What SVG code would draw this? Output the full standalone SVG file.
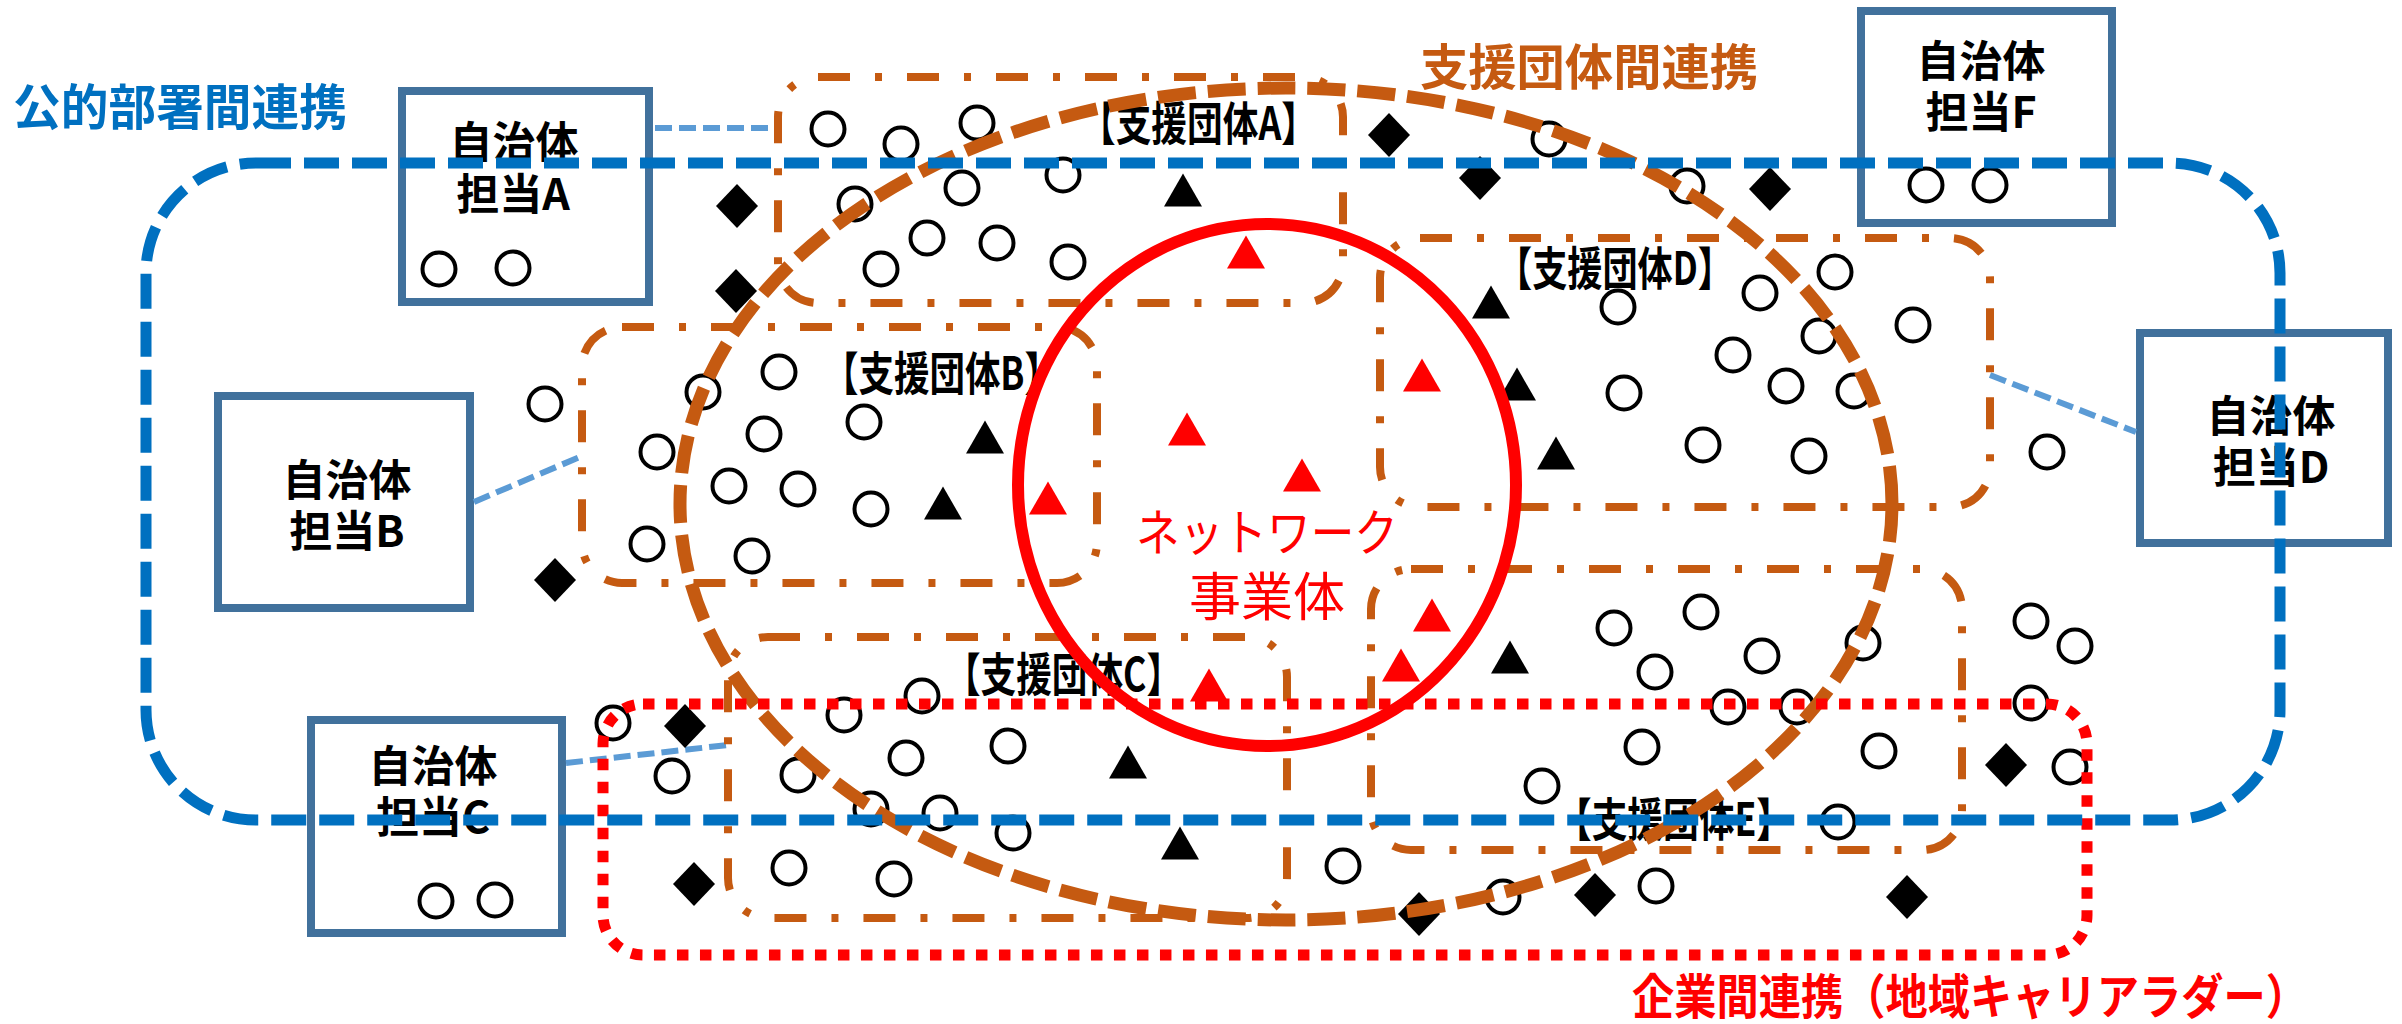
<svg xmlns="http://www.w3.org/2000/svg" xmlns:xlink="http://www.w3.org/1999/xlink" width="2402" height="1024" viewBox="0 0 2402 1024">
<style>
.box{fill:#fff;stroke:#41719C;stroke-width:8}
.bt{font-family:"Noto Sans CJK JP","Liberation Sans",sans-serif;font-weight:700;font-size:43px;fill:#000;text-anchor:middle}
.lbl{font-family:"Noto Sans CJK JP","Liberation Sans",sans-serif;font-weight:700;font-size:46px;fill:#000}
.ttl{font-family:"Noto Sans CJK JP","Liberation Sans",sans-serif;font-weight:700;font-size:49px}
.ci{fill:none;stroke:#000;stroke-width:4}
.tk{fill:#000}
.tr{fill:#FF0000}
.grp{fill:none;stroke:#C55A11;stroke-width:8;stroke-dasharray:32 25 7 25}
.big{fill:none;stroke:#C55A11;stroke-width:13;stroke-dasharray:38 12}
.conn{fill:none;stroke:#5B9BD5;stroke-width:6;stroke-dasharray:17 7}
</style>
<defs>
<path id="tri" d="M0,-16.5 L19,16.5 L-19,16.5 Z"/>
<path id="dia" d="M0,-22 L21,0 L0,22 L-21,0 Z"/>
<circle id="c" r="16.5"/>
</defs>

<g id="box-A"><rect class="box" x="402" y="91" width="247" height="211"/>
<text class="bt" x="514" y="158">自治体</text><text class="bt" x="513" y="210">担当A</text>
<use href="#c" class="ci" x="439" y="269"/><use href="#c" class="ci" x="513" y="268"/></g>
<g id="box-B"><rect class="box" x="218" y="396" width="252" height="212"/>
<text class="bt" x="347" y="496">自治体</text><text class="bt" x="347" y="547">担当B</text></g>
<g id="box-C"><rect class="box" x="311" y="720" width="251" height="213"/>
<text class="bt" x="433" y="782">自治体</text><text class="bt" x="433" y="833">担当C</text>
<use href="#c" class="ci" x="436" y="901"/><use href="#c" class="ci" x="495" y="900"/></g>
<g id="box-D"><rect class="box" x="2140" y="333" width="248" height="210"/>
<text class="bt" x="2271" y="432">自治体</text><text class="bt" x="2271" y="483">担当D</text></g>
<g id="box-F"><rect class="box" x="1861" y="11" width="251" height="212"/>
<text class="bt" x="1981" y="77">自治体</text><text class="bt" x="1981" y="128">担当F</text>
<use href="#c" class="ci" x="1926" y="185"/><use href="#c" class="ci" x="1990" y="185"/></g>

<g id="connectors">
<line class="conn" x1="655" y1="128" x2="778" y2="128"/>
<line class="conn" x1="474" y1="502" x2="582" y2="456"/>
<line class="conn" x1="566" y1="763" x2="728" y2="745"/>
<line class="conn" x1="1990" y1="375" x2="2136" y2="432"/>
</g>

<g id="members">
<g id="circles">
<use href="#c" class="ci" x="828" y="129"/><use href="#c" class="ci" x="901" y="144"/><use href="#c" class="ci" x="977" y="123"/>
<use href="#c" class="ci" x="1063" y="175"/><use href="#c" class="ci" x="962" y="188"/><use href="#c" class="ci" x="855" y="204"/>
<use href="#c" class="ci" x="927" y="238"/><use href="#c" class="ci" x="997" y="243"/><use href="#c" class="ci" x="881" y="269"/>
<use href="#c" class="ci" x="1068" y="262"/><use href="#c" class="ci" x="1549" y="139"/><use href="#c" class="ci" x="1687" y="186"/>
<use href="#c" class="ci" x="545" y="404"/><use href="#c" class="ci" x="703" y="392"/><use href="#c" class="ci" x="779" y="372"/>
<use href="#c" class="ci" x="764" y="434"/><use href="#c" class="ci" x="864" y="422"/><use href="#c" class="ci" x="657" y="452"/>
<use href="#c" class="ci" x="729" y="486"/><use href="#c" class="ci" x="798" y="489"/><use href="#c" class="ci" x="871" y="509"/>
<use href="#c" class="ci" x="647" y="544"/><use href="#c" class="ci" x="752" y="556"/>
<use href="#c" class="ci" x="1835" y="272"/><use href="#c" class="ci" x="1760" y="293"/><use href="#c" class="ci" x="1618" y="307"/>
<use href="#c" class="ci" x="1913" y="325"/><use href="#c" class="ci" x="1819" y="336"/><use href="#c" class="ci" x="1733" y="355"/>
<use href="#c" class="ci" x="1786" y="386"/><use href="#c" class="ci" x="1854" y="391"/><use href="#c" class="ci" x="1624" y="393"/>
<use href="#c" class="ci" x="1703" y="445"/><use href="#c" class="ci" x="1809" y="456"/><use href="#c" class="ci" x="2047" y="452"/>
<use href="#c" class="ci" x="1614" y="628"/><use href="#c" class="ci" x="1701" y="612"/><use href="#c" class="ci" x="1762" y="656"/>
<use href="#c" class="ci" x="1655" y="672"/><use href="#c" class="ci" x="1863" y="643"/><use href="#c" class="ci" x="2031" y="621"/>
<use href="#c" class="ci" x="2075" y="646"/><use href="#c" class="ci" x="1728" y="707"/><use href="#c" class="ci" x="1797" y="707"/>
<use href="#c" class="ci" x="2031" y="703"/><use href="#c" class="ci" x="1642" y="747"/><use href="#c" class="ci" x="1879" y="751"/>
<use href="#c" class="ci" x="2070" y="767"/><use href="#c" class="ci" x="1838" y="822"/><use href="#c" class="ci" x="1542" y="786"/>
<use href="#c" class="ci" x="1656" y="886"/><use href="#c" class="ci" x="1503" y="897"/><use href="#c" class="ci" x="1343" y="866"/>
<use href="#c" class="ci" x="613" y="723"/><use href="#c" class="ci" x="672" y="776"/><use href="#c" class="ci" x="798" y="775"/>
<use href="#c" class="ci" x="789" y="868"/><use href="#c" class="ci" x="844" y="715"/><use href="#c" class="ci" x="922" y="696"/>
<use href="#c" class="ci" x="906" y="758"/><use href="#c" class="ci" x="1008" y="746"/><use href="#c" class="ci" x="871" y="809"/>
<use href="#c" class="ci" x="940" y="813"/><use href="#c" class="ci" x="1013" y="833"/><use href="#c" class="ci" x="894" y="879"/>
</g>
<g id="diamonds">
<use href="#dia" class="tk" x="737" y="206"/><use href="#dia" class="tk" x="736" y="291"/><use href="#dia" class="tk" x="555" y="580"/>
<use href="#dia" class="tk" x="685" y="726"/><use href="#dia" class="tk" x="694" y="884"/><use href="#dia" class="tk" x="1389" y="135"/>
<use href="#dia" class="tk" x="1480" y="178"/><use href="#dia" class="tk" x="1770" y="189"/><use href="#dia" class="tk" x="2006" y="765"/>
<use href="#dia" class="tk" x="1419" y="914"/><use href="#dia" class="tk" x="1595" y="895"/><use href="#dia" class="tk" x="1907" y="897"/>
</g>
<g id="triangles">
<use href="#tri" class="tk" x="1183" y="190"/><use href="#tri" class="tk" x="985" y="437"/><use href="#tri" class="tk" x="943" y="503"/>
<use href="#tri" class="tk" x="1491" y="302"/><use href="#tri" class="tk" x="1517" y="384"/><use href="#tri" class="tk" x="1556" y="453"/>
<use href="#tri" class="tk" x="1510" y="657"/><use href="#tri" class="tk" x="1128" y="762"/><use href="#tri" class="tk" x="1180" y="843"/>
<use href="#tri" class="tr" x="1246" y="252"/><use href="#tri" class="tr" x="1187" y="429"/><use href="#tri" class="tr" x="1302" y="475"/>
<use href="#tri" class="tr" x="1048" y="498"/><use href="#tri" class="tr" x="1422" y="375"/><use href="#tri" class="tr" x="1432" y="615"/>
<use href="#tri" class="tr" x="1401" y="665"/><use href="#tri" class="tr" x="1209" y="685"/>
</g>
</g>

<g id="group-A"><rect class="grp" x="778" y="77" width="565" height="226" rx="40"/>
<text class="lbl" x="1080" y="140" textLength="237" lengthAdjust="spacingAndGlyphs">【支援団体A】</text></g>
<g id="group-B"><rect class="grp" x="582" y="327" width="515" height="256" rx="40"/>
<text class="lbl" x="823" y="390" textLength="237" lengthAdjust="spacingAndGlyphs">【支援団体B】</text></g>
<g id="group-C"><rect class="grp" x="728" y="637" width="559" height="281" rx="40"/>
<text class="lbl" x="945" y="691" textLength="237" lengthAdjust="spacingAndGlyphs">【支援団体C】</text></g>
<g id="group-D"><rect class="grp" x="1380" y="238" width="610" height="269" rx="40"/>
<text class="lbl" x="1497" y="285" textLength="236" lengthAdjust="spacingAndGlyphs">【支援団体D】</text></g>
<g id="group-E"><rect class="grp" x="1371" y="569" width="591" height="281" rx="40"/>
<text class="lbl" x="1556" y="836" textLength="236" lengthAdjust="spacingAndGlyphs">【支援団体E】</text></g>

<g id="support-network">
<ellipse class="big" cx="1286" cy="504" rx="606" ry="416"/>
<text class="ttl" x="1420" y="85" fill="#C55A11" textLength="338" lengthAdjust="spacingAndGlyphs">支援団体間連携</text>
</g>

<g id="network-body">
<ellipse cx="1267" cy="485" rx="249" ry="261" fill="none" stroke="#FF0000" stroke-width="12"/>
<text x="1267" y="551" font-family="Noto Sans CJK JP, sans-serif" font-size="50" fill="#FF0000" text-anchor="middle" textLength="262" lengthAdjust="spacingAndGlyphs">ネットワーク</text>
<text x="1267" y="616" font-family="Noto Sans CJK JP, sans-serif" font-size="52" fill="#FF0000" text-anchor="middle">事業体</text>
</g>

<g id="corporate">
<rect x="603" y="704" width="1484" height="251" rx="40" fill="none" stroke="#FF0000" stroke-width="11" stroke-dasharray="11.5 11.5"/>
<text class="ttl" x="1632" y="1014" fill="#FF0000" textLength="676" lengthAdjust="spacingAndGlyphs" style="font-size:48px">企業間連携（地域キャリアラダー）</text>
</g>

<g id="public">
<rect x="146" y="163" width="2134" height="657" rx="110" fill="none" stroke="#0070C0" stroke-width="11" stroke-dasharray="35 13"/>
<text class="ttl" x="13" y="125" fill="#0070C0" textLength="334" lengthAdjust="spacingAndGlyphs">公的部署間連携</text>
</g>
</svg>
